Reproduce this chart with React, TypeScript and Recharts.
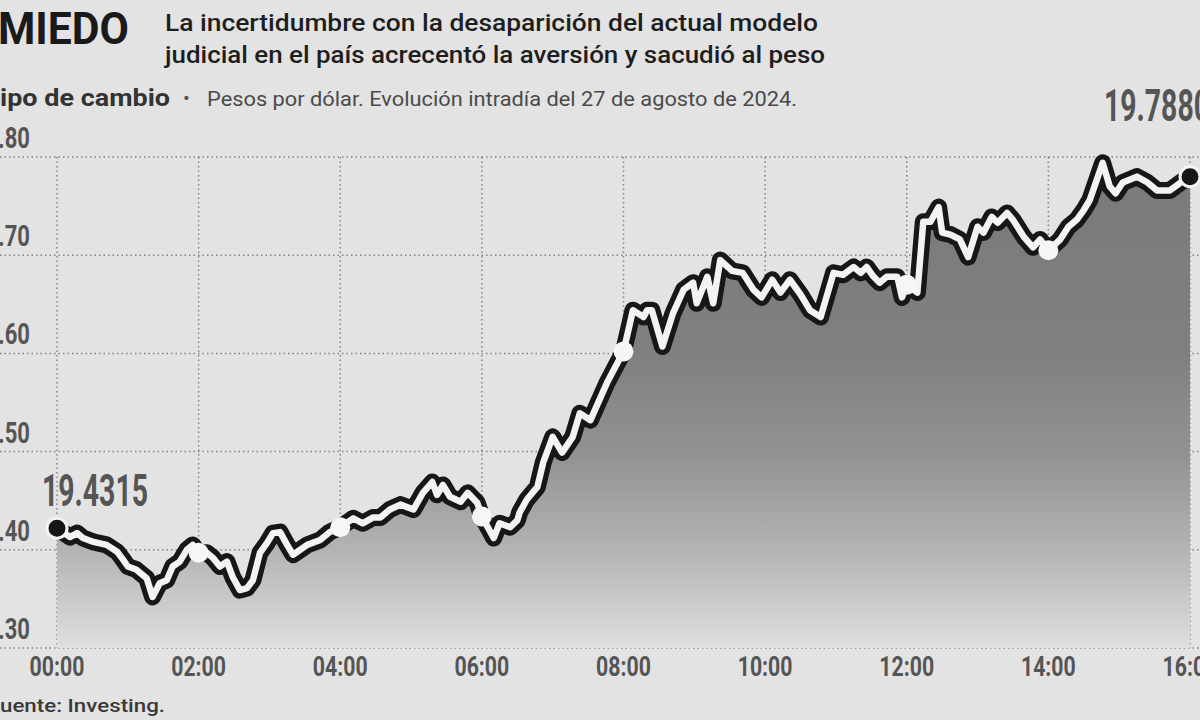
import React from "react"
import { ComposedChart, Area, Line, XAxis, YAxis, CartesianGrid } from "recharts"

// minutes since 00:00 (27 ago 2024)
const minutes = [
  0, 11, 17, 22, 31, 42, 51, 56, 60, 67,
  76, 81, 87, 93, 98, 104, 110, 115, 120, 127,
  132, 138, 144, 149, 155, 161, 166, 172, 178, 183,
  189, 195, 200, 212, 223, 231, 240, 251, 259, 268,
  274, 282, 291, 302, 310, 318, 322, 327, 333, 342,
  348, 356, 360, 370, 375, 384, 390, 392, 398, 407,
  412, 420, 428, 437, 443, 452, 466, 480, 488, 497,
  500, 504, 513, 522, 531, 539, 542, 551, 556, 562,
  572, 581, 590, 597, 606, 613, 621, 630, 638, 647,
  658, 666, 675, 681, 686, 692, 697, 703, 712, 716,
  720, 729, 734, 740, 747, 750, 757, 765, 772, 780,
  785, 792, 797, 805, 810, 819, 827, 833, 840, 850,
  857, 864, 870, 875, 886, 892, 897, 903, 915, 924,
  932, 943, 952, 960,
]

// pesos por dólar
const rates = [
  19.422, 19.413, 19.417, 19.412, 19.408, 19.405, 19.398, 19.39, 19.383, 19.38,
  19.371, 19.352, 19.366, 19.369, 19.383, 19.388, 19.4, 19.405, 19.397, 19.397,
  19.392, 19.383, 19.388, 19.372, 19.359, 19.361, 19.369, 19.397, 19.407, 19.417,
  19.418, 19.405, 19.395, 19.405, 19.41, 19.418, 19.423, 19.432, 19.427, 19.433,
  19.433, 19.441, 19.446, 19.441, 19.458, 19.469, 19.456, 19.466, 19.454, 19.449,
  19.458, 19.448, 19.434, 19.412, 19.427, 19.423, 19.43, 19.438, 19.451, 19.464,
  19.489, 19.515, 19.499, 19.515, 19.539, 19.532, 19.57, 19.602, 19.644, 19.637,
  19.644, 19.644, 19.607, 19.641, 19.665, 19.672, 19.651, 19.678, 19.651, 19.695,
  19.684, 19.682, 19.665, 19.657, 19.675, 19.662, 19.675, 19.66, 19.644, 19.637,
  19.682, 19.68, 19.688, 19.682, 19.688, 19.678, 19.672, 19.678, 19.678, 19.657,
  19.67, 19.662, 19.734, 19.734, 19.749, 19.723, 19.721, 19.716, 19.698, 19.729,
  19.723, 19.739, 19.733, 19.743, 19.736, 19.719, 19.708, 19.716, 19.705, 19.716,
  19.729, 19.736, 19.746, 19.756, 19.794, 19.77, 19.763, 19.774, 19.78, 19.774,
  19.766, 19.766, 19.774, 19.78,
]

const xTicks = [0, 120, 240, 360, 480, 600, 720, 840, 960]
const xTickLabels = ["00:00", "02:00", "04:00", "06:00", "08:00", "10:00", "12:00", "14:00", "16:00"]
const yTicks = [19.3, 19.4, 19.5, 19.6, 19.7, 19.8]
const whiteDots = [120, 240, 360, 480, 720, 840]
const endLabels = ["19.4315", "19.7880"]

const data = minutes.map((m, i) => ({ minute: m, rate: rates[i] }))

const W = 1200
const H = 720
const FONT = "Roboto, 'Liberation Sans', sans-serif"
const NUM = "#555555"
const BG = "#e3e3e3"

const XTick = (props: any) => {
  const { x, index } = props
  return (
    <text
      transform={`translate(${x},676) scale(0.76,1)`}
      textAnchor="middle"
      fontFamily={FONT}
      fontWeight={700}
      fontSize={28}
      fill={NUM}
    >
      {xTickLabels[index]}
    </text>
  )
}

const YTick = (props: any) => {
  const { y, payload } = props
  return (
    <text
      transform={`translate(30,${y - 9}) scale(0.76,1)`}
      textAnchor="end"
      fontFamily={FONT}
      fontWeight={700}
      fontSize={29}
      fill={NUM}
    >
      {payload.value.toFixed(2)}
    </text>
  )
}

const hLine = (p: any) => (
  <line
    key={`h-${p.index}-${p.y1}`}
    x1={0}
    x2={W}
    y1={p.y1}
    y2={p.y2}
    stroke="rgba(70,70,70,0.6)"
    strokeWidth={1.5}
    strokeDasharray="1.5 3"
  />
)

const vLine = (p: any) => (
  <line
    key={`v-${p.index}-${p.x1}`}
    x1={p.x1}
    x2={p.x2}
    y1={p.y1}
    y2={p.y2}
    stroke="rgba(70,70,70,0.6)"
    strokeWidth={1.5}
    strokeDasharray="1.5 3"
  />
)

const renderDot = (props: any) => {
  const { cx, cy, payload, index } = props
  const last = minutes.length - 1
  if (index === 0 || index === last) {
    const first = index === 0
    return (
      <g key={`d-${index}`}>
        <circle cx={cx} cy={cy} r={10} fill="#161616" stroke="#f4f4f4" strokeWidth={3} />
        <text
          x={first ? cx - 15 : cx + 20}
          y={first ? cy - 22 : cy - 56}
          textAnchor={first ? "start" : "end"}
          fontFamily={FONT}
          fontWeight={700}
          fontSize={44}
          fill={NUM}
          textLength={106}
          lengthAdjust="spacingAndGlyphs"
        >
          {first ? endLabels[0] : endLabels[1]}
        </text>
      </g>
    )
  }
  if (whiteDots.includes(payload.minute)) {
    return <circle key={`d-${index}`} cx={cx} cy={cy} r={10} fill="#f6f6f6" />
  }
  return <g key={`d-${index}`} />
}

export default function App() {
  return (
    <div style={{ position: "fixed", left: 0, top: 0, width: W, height: H, background: BG, overflow: "hidden" }}>
      <ComposedChart
        width={W}
        height={H}
        data={data}
        margin={{ top: 157, right: 10, bottom: 0, left: 0 }}
        style={{ position: "absolute", left: 0, top: 0 }}
      >
        <defs>
          <linearGradient id="fillRate" x1="0" y1="0" x2="0" y2="1">
            <stop offset="0" stopColor="#7b7979" />
            <stop offset="0.4" stopColor="#827f7f" />
            <stop offset="0.6" stopColor="#939292" />
            <stop offset="0.8" stopColor="#b4b4b4" />
            <stop offset="1" stopColor="#dfdfdf" />
          </linearGradient>
        </defs>
        <XAxis
          dataKey="minute"
          type="number"
          domain={[0, 960]}
          ticks={xTicks}
          tick={<XTick />}
          axisLine={false}
          tickLine={false}
          height={72}
          interval={0}
        />
        <YAxis
          domain={[19.3, 19.8]}
          ticks={yTicks}
          tick={<YTick />}
          axisLine={false}
          tickLine={false}
          width={57}
          interval={0}
        />
        <Area
          dataKey="rate"
          type="linear"
          fill="url(#fillRate)"
          fillOpacity={1}
          stroke="none"
          baseValue={19.3}
          isAnimationActive={false}
        />
        <CartesianGrid horizontal={hLine} vertical={vLine} />
        <Line
          dataKey="rate"
          type="linear"
          stroke="#171717"
          strokeWidth={17}
          strokeLinejoin="round"
          strokeLinecap="round"
          dot={false}
          isAnimationActive={false}
        />
        <Line
          dataKey="rate"
          type="linear"
          stroke="#f3f3f3"
          strokeWidth={6.5}
          strokeLinejoin="round"
          strokeLinecap="round"
          dot={renderDot}
          isAnimationActive={false}
        />
      </ComposedChart>
      <svg width={W} height={H} style={{ position: "absolute", left: 0, top: 0, pointerEvents: "none" }}>
        <text x={-2} y={44} fontFamily={FONT} fontWeight={700} fontSize={45} fill="#1a1a1a" textLength={131} lengthAdjust="spacingAndGlyphs">
          MIEDO
        </text>
        <text x={165} y={31} fontFamily={FONT} fontWeight={500} fontSize={24} fill="#1e1e1e" textLength={653} lengthAdjust="spacingAndGlyphs">
          La incertidumbre con la desaparición del actual modelo
        </text>
        <text x={165} y={63} fontFamily={FONT} fontWeight={500} fontSize={24} fill="#1e1e1e" textLength={660} lengthAdjust="spacingAndGlyphs">
          judicial en el país acrecentó la aversión y sacudió al peso
        </text>
        <text x={0} y={106} fontFamily={FONT} fontWeight={700} fontSize={23} fill="#333333" textLength={170} lengthAdjust="spacingAndGlyphs">
          ipo de cambio
        </text>
        <text x={183} y={105} fontFamily={FONT} fontSize={20} fill="#555555">
          •
        </text>
        <text x={207} y={106} fontFamily={FONT} fontWeight={400} fontSize={20} fill="#4a4a4a" textLength={590} lengthAdjust="spacingAndGlyphs">
          Pesos por dólar. Evolución intradía del 27 de agosto de 2024.
        </text>
        <text x={0} y={712} fontFamily={FONT} fontWeight={500} fontSize={19} fill="#3a3a3a" textLength={165} lengthAdjust="spacingAndGlyphs">
          uente: Investing.
        </text>
      </svg>
    </div>
  )
}
